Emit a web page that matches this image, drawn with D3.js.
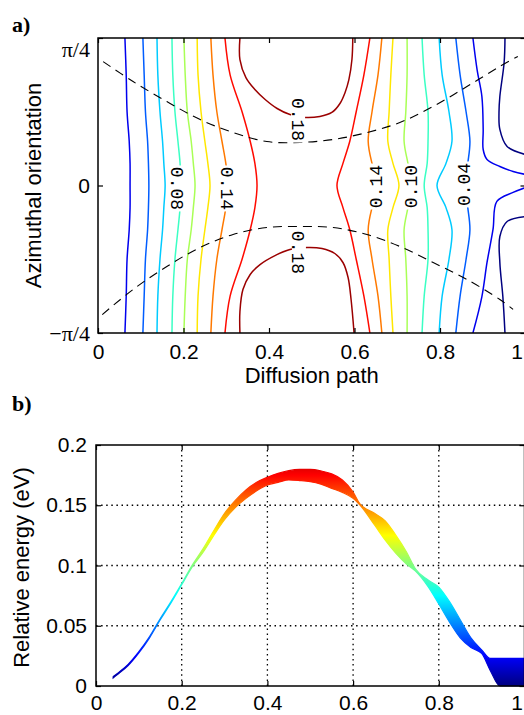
<!DOCTYPE html>
<html><head><meta charset="utf-8">
<script src="https://cdn.jsdelivr.net/npm/d3@7"></script>
<style>
body{margin:0;background:#fff}
svg{display:block}
</style>
</head><body>
<svg id="fig" width="524" height="715"></svg>
<script>
// ---------- panel a: energy contours over (diffusion path, azimuthal orientation) ----------
// orientation is expressed in units of pi/4
const rowT = [1, 0.75, 0.5, 0.3, 0.15, 0, -0.15, -0.3, -0.5, -0.75, -1];

// left-hand (rising) branch of each level: path coordinate at each row of rowT
const leftLevels = [0.02, 0.04, 0.06, 0.08, 0.10, 0.12, 0.14, 0.16];
const leftBranches = [
  [0.063, 0.066, 0.068, 0.073, 0.075, 0.075, 0.075, 0.073, 0.068, 0.066, 0.063],
  [0.105, 0.108, 0.111, 0.116, 0.118, 0.119, 0.118, 0.116, 0.111, 0.108, 0.105],
  [0.138, 0.140, 0.145, 0.151, 0.154, 0.157, 0.154, 0.151, 0.145, 0.140, 0.138],
  [0.173, 0.175, 0.180, 0.187, 0.192, 0.194, 0.192, 0.187, 0.180, 0.175, 0.173],
  [0.201, 0.204, 0.209, 0.218, 0.223, 0.227, 0.223, 0.218, 0.209, 0.204, 0.201],
  [0.232, 0.234, 0.241, 0.250, 0.257, 0.262, 0.257, 0.250, 0.241, 0.234, 0.232],
  [0.264, 0.269, 0.278, 0.290, 0.299, 0.304, 0.299, 0.290, 0.278, 0.269, 0.264],
  [0.297, 0.309, 0.337, 0.356, 0.367, 0.372, 0.367, 0.356, 0.337, 0.309, 0.297]
];

// right-hand (falling) branch of each level
const rightLevels = [0.16, 0.14, 0.12, 0.10, 0.08, 0.06, 0.04];
const rightBranches = [
  [0.636, 0.622, 0.604, 0.589, 0.573, 0.559, 0.573, 0.589, 0.604, 0.622, 0.636],
  [0.664, 0.655, 0.641, 0.632, 0.641, 0.657, 0.641, 0.632, 0.641, 0.655, 0.664],
  [0.690, 0.685, 0.681, 0.678, 0.690, 0.704, 0.690, 0.678, 0.681, 0.685, 0.690],
  [0.723, 0.723, 0.720, 0.716, 0.725, 0.735, 0.725, 0.716, 0.720, 0.723, 0.723],
  [0.758, 0.763, 0.772, 0.772, 0.770, 0.763, 0.770, 0.772, 0.772, 0.763, 0.758],
  [0.798, 0.805, 0.821, 0.828, 0.814, 0.793, 0.814, 0.828, 0.821, 0.805, 0.798],
  [0.837, 0.847, 0.861, 0.870, 0.865, 0.858, 0.865, 0.870, 0.861, 0.847, 0.837]
];

// free-form pieces: [path, orientation] pairs
const level002Upper = [[0.877,1.0],[0.887,0.78],[0.898,0.603],[0.901,0.38],[0.901,0.244],[0.910,0.176],[0.940,0.129],[0.971,0.095],[1.0,0.075]];
const level002Lower = [[1.0,-0.014],[0.971,-0.047],[0.933,-0.108],[0.924,-0.298],[0.910,-0.522],[0.898,-0.753],[0.877,-1.0]];
const level000Upper = [[0.952,1.0],[0.950,0.834],[0.940,0.603],[0.938,0.495],[0.940,0.38],[0.957,0.264],[1.0,0.21]];
const level000Lower = [[1.0,-0.21],[0.957,-0.244],[0.940,-0.346],[0.940,-0.522],[0.947,-0.753],[0.952,-1.0]];
const level018Upper = [[0.332,1.0],[0.332,0.854],[0.346,0.732],[0.367,0.651],[0.391,0.583],[0.419,0.522],[0.449,0.481],[0.484,0.461],[0.519,0.468],[0.547,0.495],[0.566,0.556],[0.578,0.631],[0.587,0.719],[0.594,0.854],[0.596,1.0]];
const level018Lower = [[0.332,-1.0],[0.332,-0.854],[0.339,-0.705],[0.356,-0.603],[0.379,-0.536],[0.414,-0.475],[0.449,-0.434],[0.489,-0.420],[0.524,-0.427],[0.554,-0.461],[0.573,-0.522],[0.585,-0.624],[0.592,-0.773],[0.599,-1.0]];

// minimum energy paths (dashed)
const pathUpper = [[0.012,0.84],[0.082,0.705],[0.161,0.569],[0.239,0.447],[0.316,0.359],[0.395,0.298],[0.473,0.292],[0.55,0.312],[0.629,0.359],[0.706,0.427],[0.784,0.536],[0.863,0.671],[0.94,0.807],[0.982,0.875]];
const pathLower = [[0.01,-0.875],[0.082,-0.705],[0.161,-0.549],[0.239,-0.42],[0.316,-0.332],[0.395,-0.285],[0.473,-0.278],[0.55,-0.285],[0.629,-0.332],[0.706,-0.413],[0.784,-0.522],[0.863,-0.637],[0.94,-0.773],[0.971,-0.84]];

// inline contour labels: text, path, orientation, rotation
const contourLabels = [
  ["0.18", 0.468, 0.447, 90],
  ["0.18", 0.470, -0.454, 90],
  ["0.08", 0.187, -0.02, 90],
  ["0.14", 0.304, -0.02, 90],
  ["0.14", 0.650, -0.007, -90],
  ["0.10", 0.730, -0.007, -90],
  ["0.04", 0.854, 0.007, -90]
];

const xTicksA = [0, 0.2, 0.4, 0.6, 0.8, 1];
const yTicksA = [-1, 0, 1];
const yTickTextA = {"-1": "\u2212\u03c0/4", "0": "0", "1": "\u03c0/4"};

// ---------- panel b: energy band along the path ----------
const bandS     = [0.04, 0.05, 0.075, 0.1, 0.125, 0.15, 0.175, 0.2, 0.225, 0.25, 0.275, 0.3, 0.325, 0.35, 0.375, 0.4, 0.425, 0.45, 0.475, 0.5, 0.525, 0.55, 0.575, 0.6, 0.615, 0.65, 0.675, 0.7, 0.725, 0.745, 0.775, 0.8, 0.825, 0.85, 0.875, 0.9, 0.92, 0.943, 0.97, 1.0];
const bandUpper = [0.0077, 0.0105, 0.018, 0.0285, 0.041, 0.056, 0.070, 0.085, 0.1005, 0.114, 0.129, 0.1433, 0.154, 0.1627, 0.169, 0.1732, 0.1765, 0.1787, 0.1797, 0.1798, 0.1785, 0.176, 0.171, 0.161, 0.1516, 0.1433, 0.137, 0.125, 0.111, 0.0975, 0.088, 0.082, 0.070, 0.055, 0.040, 0.030, 0.0229, 0.0229, 0.0229, 0.0229];
const bandLower = [0.0067, 0.0095, 0.017, 0.0275, 0.040, 0.055, 0.069, 0.084, 0.099, 0.111, 0.125, 0.138, 0.148, 0.1557, 0.162, 0.1668, 0.169, 0.171, 0.1705, 0.1696, 0.1675, 0.164, 0.1607, 0.1557, 0.1506, 0.1336, 0.121, 0.110, 0.101, 0.0955, 0.0824, 0.068, 0.053, 0.040, 0.032, 0.027, 0.013, 0.0, 0.0, 0.0];

const xTicksB = [0, 0.2, 0.4, 0.6, 0.8, 1];
const yTicksB = [0, 0.05, 0.1, 0.15, 0.2];

// ---------- drawing ----------
const svg = d3.select("#fig");
const sans = "'Liberation Sans', Arial, sans-serif";
const serif = "'Liberation Serif', 'Times New Roman', serif";
const W = 524;

const jet = d3.scaleLinear()
  .domain([0, 0.125, 0.375, 0.625, 0.875, 1])
  .range(["#000080", "#0000ff", "#00ffff", "#ffff00", "#ff0000", "#800000"])
  .clamp(true);
const contourColor = v => jet(v / 0.185);

// panel a
const xA = d3.scaleLinear().domain([0, 1]).range([98, 525.5]);
const yA = d3.scaleLinear().domain([-1, 1]).range([333, 38]);

svg.append("clipPath").attr("id", "clipA").append("rect")
  .attr("x", xA(0)).attr("y", yA(1)).attr("width", xA(1) - xA(0)).attr("height", yA(-1) - yA(1));

const gA = svg.append("g").attr("clip-path", "url(#clipA)");
const lineA = d3.line().x(d => xA(d[0])).y(d => yA(d[1])).curve(d3.curveCatmullRom.alpha(0.5));

function drawLevel(points, level) {
  gA.append("path").attr("d", lineA(points))
    .attr("fill", "none").attr("stroke", contourColor(level)).attr("stroke-width", 1.5);
}
leftBranches.forEach((row, i) => drawLevel(row.map((s, j) => [s, rowT[j]]), leftLevels[i]));
rightBranches.forEach((row, i) => drawLevel(row.map((s, j) => [s, rowT[j]]), rightLevels[i]));
drawLevel(level002Upper, 0.02);
drawLevel(level002Lower, 0.02);
drawLevel(level000Upper, 0);
drawLevel(level000Lower, 0);
drawLevel(level018Upper, 0.18);
drawLevel(level018Lower, 0.18);

[pathUpper, pathLower].forEach(p => {
  gA.append("path").attr("d", lineA(p))
    .attr("fill", "none").attr("stroke", "#000").attr("stroke-width", 1.1)
    .attr("stroke-dasharray", "9,6");
});

// inline labels break the contour lines
contourLabels.forEach(([txt, s, t, rot]) => {
  const g = gA.append("g").attr("transform", `translate(${xA(s)},${yA(t)}) rotate(${rot})`);
  g.append("rect").attr("x", -23).attr("y", -7).attr("width", 46).attr("height", 14).attr("fill", "#fff");
  g.append("text").text(txt)
    .attr("text-anchor", "middle").attr("dy", "0.36em")
    .attr("font-family", "'Liberation Mono', 'DejaVu Sans Mono', monospace")
    .attr("font-size", 18).attr("fill", "#000");
});

function styleAxis(g, size, family) {
  g.select(".domain").remove();
  g.selectAll(".tick line").attr("stroke", "#000").attr("stroke-width", 1.2);
  g.selectAll(".tick text").attr("font-family", family || sans).attr("font-size", size).attr("fill", "#000");
}
// the last x label sits against the window's right edge
function pinLastLabel(g) {
  g.selectAll(".tick").filter(d => d === 1).select("text")
    .attr("text-anchor", "end").attr("x", function() {
      const tx = +this.parentNode.getAttribute("transform").match(/translate\(([-\d.]+)/)[1];
      return (W - 1) - tx;
    });
}

svg.append("g").attr("transform", `translate(0,${yA(-1)})`)
  .call(d3.axisBottom(xA).tickValues(xTicksA).tickFormat(d3.format("")).tickSizeInner(-5).tickSizeOuter(0).tickPadding(11))
  .call(g => styleAxis(g, 21))
  .call(pinLastLabel);
svg.append("g").attr("transform", `translate(0,${yA(1)})`)
  .call(d3.axisTop(xA).tickValues(xTicksA).tickFormat("").tickSizeInner(-5).tickSizeOuter(0))
  .call(g => styleAxis(g, 21));
svg.append("g").attr("transform", `translate(${xA(0)},0)`)
  .call(d3.axisLeft(yA).tickValues(yTicksA).tickFormat(d => yTickTextA[d]).tickSizeInner(-5).tickSizeOuter(0).tickPadding(8))
  .call(g => styleAxis(g, 21))
  .call(g => g.selectAll(".tick text").filter(d => d !== 0).attr("font-family", serif).attr("font-size", 22))
  // the upper label hangs just below the frame's top edge
  .call(g => g.selectAll(".tick text").filter(d => d === 1).attr("dy", "0.85em"));
svg.append("g").attr("transform", `translate(${xA(1)},0)`)
  .call(d3.axisRight(yA).tickValues(yTicksA).tickFormat("").tickSizeInner(-5).tickSizeOuter(0))
  .call(g => styleAxis(g, 21));

svg.append("rect").attr("x", xA(0)).attr("y", yA(1)).attr("width", xA(1) - xA(0)).attr("height", yA(-1) - yA(1))
  .attr("fill", "none").attr("stroke", "#000").attr("stroke-width", 1.5);

svg.append("text").text("Diffusion path").attr("x", (xA(0) + xA(1)) / 2).attr("y", 383)
  .attr("text-anchor", "middle").attr("font-family", sans).attr("font-size", 22);
svg.append("text").text("Azimuthal orientation")
  .attr("transform", `translate(41,${yA(0)}) rotate(-90)`)
  .attr("text-anchor", "middle").attr("font-family", sans).attr("font-size", 22);
svg.append("text").text("a)").attr("x", 12).attr("y", 32)
  .attr("font-family", serif).attr("font-weight", "bold").attr("font-size", 22);

// panel b
const xB = d3.scaleLinear().domain([0, 1]).range([96, 524.5]);
const yB = d3.scaleLinear().domain([0, 0.2]).range([686, 445]);

const grad = svg.append("defs").append("linearGradient").attr("id", "energyFill")
  .attr("gradientUnits", "userSpaceOnUse")
  .attr("x1", 0).attr("x2", 0).attr("y1", yB(0)).attr("y2", yB(0.2));
jet.domain().forEach((o, i) => grad.append("stop").attr("offset", o).attr("stop-color", jet.range()[i]));

// dotted grid
const gB = svg.append("g");
xTicksB.filter(d => d > 0 && d < 1).forEach(d => {
  gB.append("line").attr("x1", xB(d)).attr("x2", xB(d)).attr("y1", yB(0)).attr("y2", yB(0.2))
    .attr("stroke", "#000").attr("stroke-width", 1.3).attr("stroke-dasharray", "1.5,3.6");
});
yTicksB.filter(d => d > 0 && d < 0.2).forEach(d => {
  gB.append("line").attr("x1", xB(0)).attr("x2", xB(1)).attr("y1", yB(d)).attr("y2", yB(d))
    .attr("stroke", "#000").attr("stroke-width", 1.3).attr("stroke-dasharray", "1.5,3.6");
});

const bandData = bandS.map((s, i) => ({s, hi: bandUpper[i], lo: bandLower[i]}));
gB.append("path")
  .attr("d", d3.area().x(d => xB(d.s)).y0(d => yB(d.lo)).y1(d => yB(d.hi)).curve(d3.curveMonotoneX)(bandData))
  .attr("fill", "url(#energyFill)").attr("stroke", "url(#energyFill)").attr("stroke-width", 1.2);

svg.append("g").attr("transform", `translate(0,${yB(0)})`)
  .call(d3.axisBottom(xB).tickValues(xTicksB).tickFormat(d3.format("")).tickSizeInner(-5).tickSizeOuter(0).tickPadding(9.5))
  .call(g => styleAxis(g, 21))
  .call(pinLastLabel);
svg.append("g").attr("transform", `translate(0,${yB(0.2)})`)
  .call(d3.axisTop(xB).tickValues(xTicksB).tickFormat("").tickSizeInner(-5).tickSizeOuter(0))
  .call(g => styleAxis(g, 21));
svg.append("g").attr("transform", `translate(${xB(0)},0)`)
  .call(d3.axisLeft(yB).tickValues(yTicksB).tickFormat(d3.format("")).tickSizeInner(-5).tickSizeOuter(0).tickPadding(9))
  .call(g => styleAxis(g, 21));
svg.append("g").attr("transform", `translate(${xB(1)},0)`)
  .call(d3.axisRight(yB).tickValues(yTicksB).tickFormat("").tickSizeInner(-5).tickSizeOuter(0))
  .call(g => styleAxis(g, 21));

svg.append("rect").attr("x", xB(0)).attr("y", yB(0.2)).attr("width", xB(1) - xB(0)).attr("height", yB(0) - yB(0.2))
  .attr("fill", "none").attr("stroke", "#000").attr("stroke-width", 1.5);

svg.append("text").text("Relative energy (eV)")
  .attr("transform", `translate(29,${(yB(0) + yB(0.2)) / 2 + 2}) rotate(-90)`)
  .attr("text-anchor", "middle").attr("font-family", sans).attr("font-size", 22);
svg.append("text").text("b)").attr("x", 12).attr("y", 411)
  .attr("font-family", serif).attr("font-weight", "bold").attr("font-size", 22);
</script>
</body></html>
